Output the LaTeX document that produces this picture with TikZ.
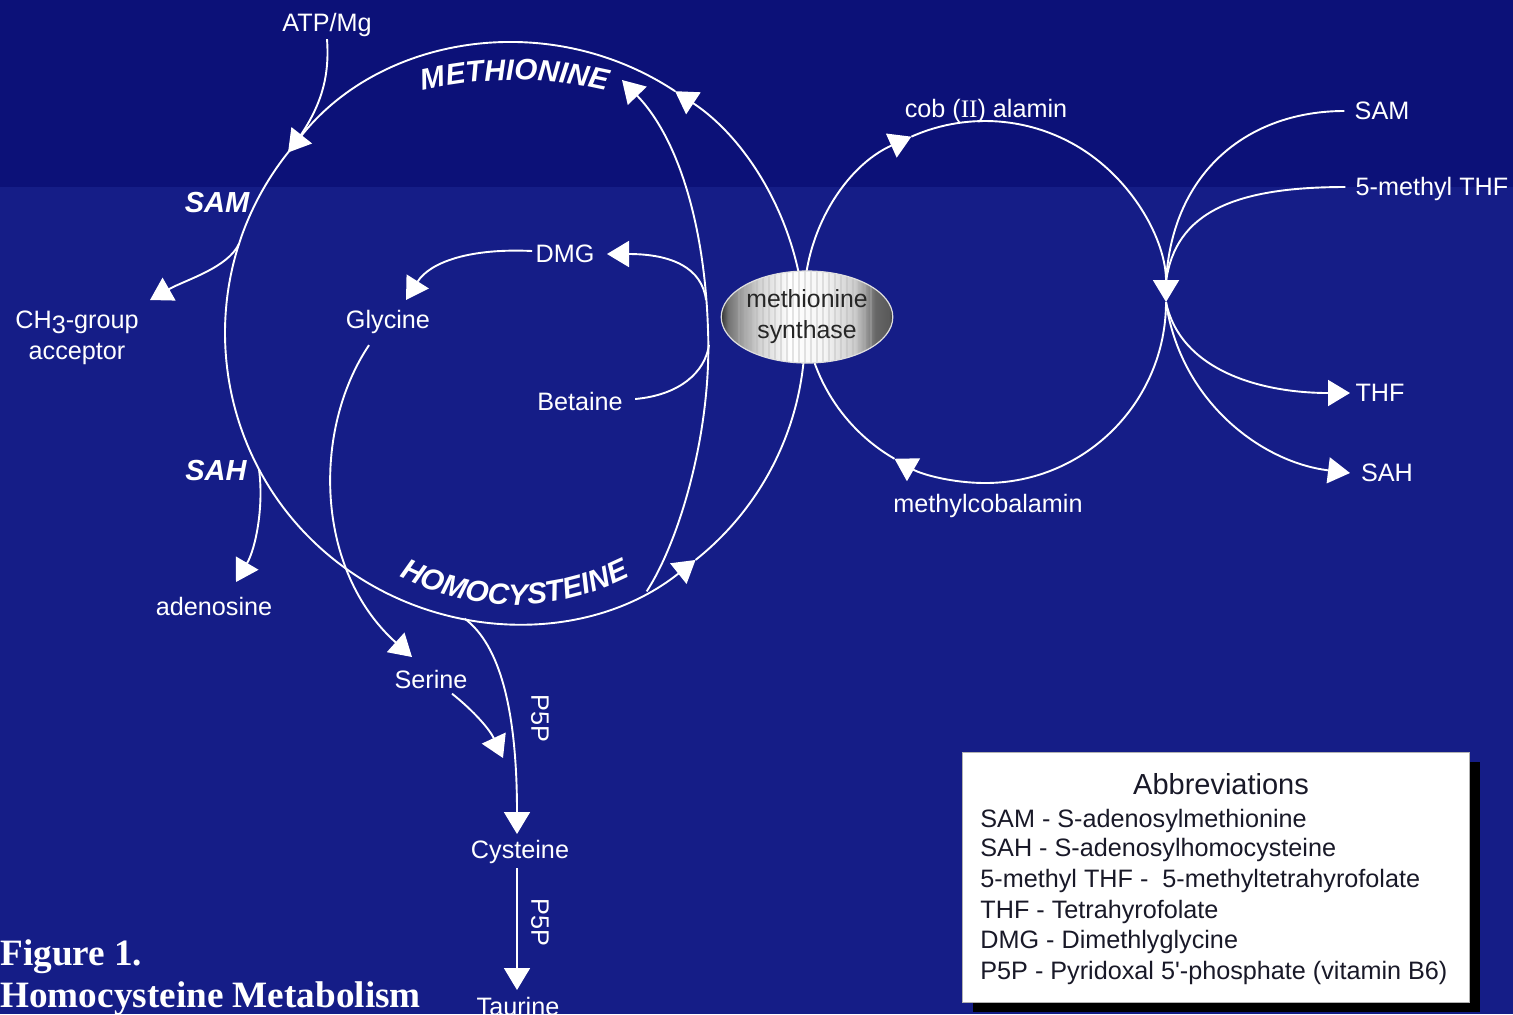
\documentclass[tikz,border=0pt]{standalone}
\usepackage{fontspec}
\setmainfont{Liberation Sans}
\newfontfamily\capfont{Liberation Serif}
\usetikzlibrary{arrows.meta,calc,decorations.text,shapes.geometric}
\definecolor{bgtop}{RGB}{12,17,120}
\definecolor{bgbot}{RGB}{21,29,135}
\definecolor{legtext}{RGB}{25,25,40}
\pgfdeclarehorizontalshading{synthshade}{100bp}{color(0bp)=(black!80); color(25bp)=(black!80); color(27bp)=(black!55); color(31bp)=(gray!75); color(36bp)=(gray!35); color(45bp)=(white); color(55bp)=(white!92!gray); color(64bp)=(gray!40); color(70bp)=(gray!80!black); color(74bp)=(black!65); color(75bp)=(black!80); color(100bp)=(black!80)}
\begin{document}
\begin{tikzpicture}[x=0.5pt,y=-0.5pt,
  wline/.style={color=white,draw=white,line width=0.95pt},
  warr/.style={wline,-{Triangle[length=11pt,width=13pt,fill=white,color=white]}},
  lbl/.style={text=white,inner sep=1pt,font=\fontsize{12.6}{15.5}\selectfont},
  biglbl/.style={text=white,inner sep=1pt,font=\fontsize{14.5}{16}\selectfont\bfseries\itshape},
  leg/.style={text=legtext,inner sep=0pt,anchor=west,font=\fontsize{12.6}{14}\selectfont},
  figcap/.style={text=white,inner sep=0pt,anchor=base west,font=\capfont\bfseries\fontsize{18.6}{20}\selectfont}]
\useasboundingbox (0,0) rectangle (1513,1014);
\clip (0,0) rectangle (1513,1014);
\fill[bgbot] (0,0) rectangle (1513,1014);
\fill[bgtop] (0,0) rectangle (1513,187);

% centres and points on the two cycles
\coordinate (C1) at (515,333);
\coordinate (C2) at (985,302);
\coordinate (pA2) at ($(C1)+(303.5:290)$);
\coordinate (pA1) at ($(C1)+(218.5:290)$);
\coordinate (psam) at ($(C1)+(198:290)$);
\coordinate (psah) at ($(C1)+(152:290)$);
\coordinate (phc) at ($(C1)+(100:290)$);
\coordinate (pbh) at ($(C1)+(63:290)$);
\coordinate (pA3) at ($(C1)+(51.5:290)$);
\coordinate (q0) at ($(C2)+(180:181)$);
\coordinate (qB1) at ($(C2)+(246:181)$);
\coordinate (qB3) at ($(C2)+(0:181)$);
\coordinate (qB2) at ($(C2)+(120:181)$);

% big cycle (methionine / homocysteine)
\draw[warr] (pA2) arc[start angle=303.5, end angle=218.5, radius=290];
\draw[warr] (pA1) arc[start angle=218.5, end angle=51.5, radius=290];
\draw[warr] (pA3) arc[start angle=51.5, end angle=-56.5, radius=290];

% cobalamin cycle
\draw[warr] (q0) arc[start angle=180, end angle=246, radius=181];
\draw[warr] (qB1) arc[start angle=246, end angle=360, radius=181];
\draw[warr] (qB3) arc[start angle=0, end angle=120, radius=181];
\draw[wline] (qB2) arc[start angle=120, end angle=180, radius=181];

% labels
\node[lbl] (atp) at (327,25) {ATP/Mg};
\node[biglbl] (samL) at (217,203) {SAM};
\node[biglbl] (sahL) at (216,471) {SAH};
\node[lbl,align=center] (ch3) at (77,338) {CH\raisebox{-0.35ex}{3}-group\\acceptor};
\node[lbl] (adeno) at (214,606) {adenosine};
\node[lbl] (gly) at (388,322) {Glycine};
\node[lbl] (dmg) at (565,254) {DMG};
\node[lbl] (bet) at (580,401) {Betaine};
\node[lbl] (ser) at (431,679) {Serine};
\node[lbl] (cys) at (520,852) {Cysteine};
\node[lbl] (tau) at (518,1006) {Taurine};
\node[lbl,rotate=-90] (p5pa) at (540,718) {P5P};
\node[lbl,rotate=-90] (p5pb) at (540,922) {P5P};
\node[lbl] (cob) at (986,111) {cob ({\capfont II}) alamin};
\node[lbl] (mcob) at (988,506) {methylcobalamin};
\node[lbl] (samR) at (1382,111) {SAM};
\node[lbl] (mthf) at (1432,189) {5-methyl THF};
\node[lbl] (thf) at (1380,393) {THF};
\node[lbl] (sahR) at (1387,473) {SAH};

% curved cycle names
\path[decorate, decoration={text along path, text align=center, text color=white,
  text={|\fontsize{14.8}{16}\selectfont\bfseries\itshape|METHIONINE}}]
  (400,97) .. controls (476.7,74.3) and (553.3,74.3) .. (630,97);
\path[decorate, decoration={text along path, text align=center, text color=white,
  text={|\fontsize{14.8}{16}\selectfont\bfseries\itshape|HOMOCYSTEINE}}]
  (370,560) .. controls (466.7,620) and (563.3,620) .. (660,560);

% free ends of connectors
\coordinate (ch3tip) at (150,300);
\coordinate (adtip) at (236,582);
\coordinate (sertip) at (412,657);
\coordinate (cystip) at (503,758);
\coordinate (cysin) at (517,834);
\coordinate (cysout) at (517,868);
\coordinate (tautip) at (517,990);
\coordinate (dmgtip) at (607,254);
\coordinate (glytip) at (406,300);
\coordinate (pj) at (708,330);
\coordinate (pdmg) at (706,300);
\coordinate (pbet) at (709,345);
\coordinate (bhtip) at (622,80);
\coordinate (qin) at (1166,282);
\coordinate (thftip) at (1350,393);
\coordinate (sahtip) at (1350,473);

% connectors, left part
\draw[wline] (atp.south) .. controls (330,80) and (320,112) .. (pA1);
\draw[warr] (psam) .. controls (228,268) and (185,280) .. (ch3tip);
\draw[warr] (psah) .. controls (264,505) and (256,548) .. (adtip);
\draw[warr] ($(gly.south)+(-19,9)$) .. controls (312,430) and (315,570) .. (sertip);
\draw[warr] ($(ser.south)+(21,3)$) .. controls (475,712) and (490,730) .. (cystip);
\draw[warr] (phc) .. controls (500,645) and (517,710) .. (cysin);
\draw[warr] (cysout) -- (tautip);
\draw[wline] (pbh) .. controls (680,540) and (712,430) .. (pj);
\draw[warr] (pj) .. controls (705,230) and (680,140) .. (bhtip);
\draw[warr] (pdmg) .. controls (702,268) and (672,254) .. (dmgtip);
\draw[warr] ($(dmg.west)+(-1,-3)$) .. controls (470,248) and (430,262) .. (glytip);
\draw[wline] ($(bet.east)+(10,-2)$) .. controls (680,395) and (705,372) .. (pbet);

% connectors, right part
\draw[wline] ($(samR.west)+(-8,0)$) .. controls (1250,111) and (1172,170) .. (qin);
\draw[wline] ($(mthf.west)+(-8,-2)$) .. controls (1235,187) and (1175,212) .. (qin);
\draw[warr] (qB3) .. controls (1180,370) and (1260,393) .. (thftip);
\draw[warr] (qB3) .. controls (1180,400) and (1260,462) .. (sahtip);

% enzyme
\node[ellipse, shade, shading=synthshade, draw=white!75!gray, line width=0.6pt,
  minimum width=80pt, minimum height=46pt, inner sep=0pt, align=center,
  text=black!85, font=\fontsize{12.4}{15.5}\selectfont,
  path picture={\foreach \i in {-34,-31,...,34}
    \draw[gray!60, opacity=0.35, line width=0.6pt]
      ([xshift=\i pt]path picture bounding box.north) -- ([xshift=\i pt]path picture bounding box.south);}]
  (ms) at (807,317) {methionine\\synthase};

% caption
\node[figcap] (fig1) at (0,965) {Figure 1.};
\node[figcap] (fig2) at (0,1007) {Homocysteine Metabolism};

% legend
\fill[black] (973,762) rectangle (1480,1012);
\node[draw=gray!60, fill=white, line width=0.5pt, minimum width=253.5pt, minimum height=125pt,
  inner sep=0pt, anchor=north west] (legend) at (962,752) {};
\node[text=legtext, inner sep=0pt, font=\fontsize{14.5}{16}\selectfont] (abbr) at (1221,784) {Abbreviations};
\node[leg] (l1) at (980,821) {SAM - S-adenosylmethionine};
\node[leg] (l2) at (980,850) {SAH - S-adenosylhomocysteine};
\node[leg] (l3) at (980,881) {5-methyl THF - \ 5-methyltetrahyrofolate};
\node[leg] (l4) at (980,912) {THF - Tetrahyrofolate};
\node[leg] (l5) at (980,942) {DMG - Dimethlyglycine};
\node[leg] (l6) at (980,973) {P5P - Pyridoxal 5\textquotesingle-phosphate (vitamin B6)};
\end{tikzpicture}
\end{document}
